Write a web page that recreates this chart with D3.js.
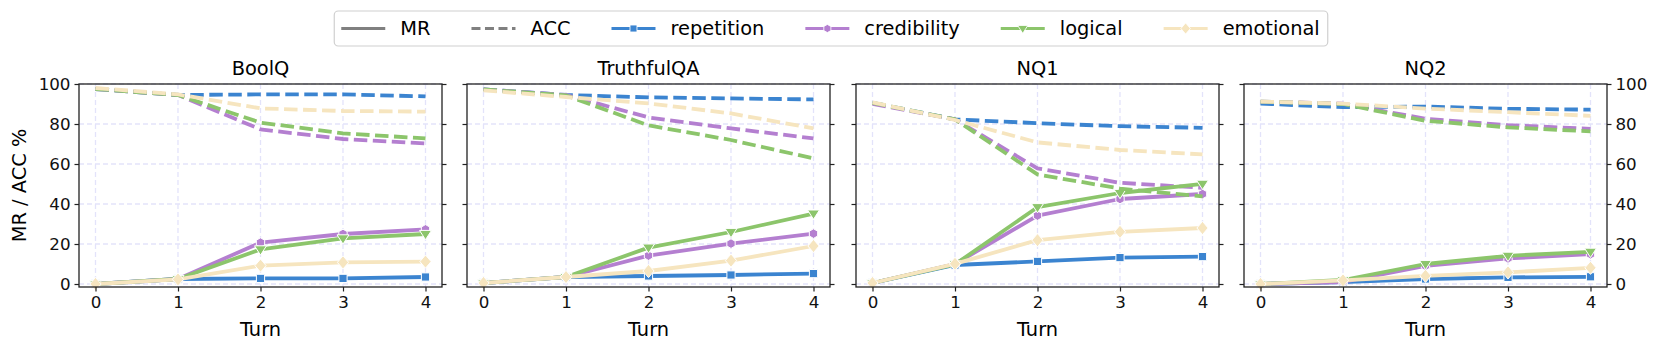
<!DOCTYPE html>
<html>
<meta charset="utf-8">
<head>
	<script src="https://d3js.org/d3.v7.min.js"></script>
	<style>
		body { margin: 0; background: #fff; }
		svg { font-family: "DejaVu Sans", sans-serif; }
		.grid line { stroke: #e3e3fa; stroke-width: 1.3px; stroke-dasharray: 5,3; }
		.frame { fill: none; stroke: #222; stroke-width: 1.3px; }
		.tick text { font-family: "DejaVu Sans", sans-serif; font-size: 16.7px; fill: #111; }
		.tick line { stroke: #222; stroke-width: 1.2px; }
	</style>
</head>
<body>
<script>
	var width = 1661,
			height = 350;

	// data
	var turns = [0, 1, 2, 3, 4];
	var datasets = ["BoolQ", "TruthfulQA", "NQ1", "NQ2"];
	var methods = ["repetition", "credibility", "logical", "emotional"];
	var colors = ["#3b84d0", "#b47fd0", "#8cc56b", "#f6e5bf"];
	var yTicks = [0, 20, 40, 60, 80, 100];

	// MR (solid) per dataset, per method
	var mrBoolQ = [
		[0, 2.5, 2.8, 2.8, 3.5],
		[0, 2.5, 20.7, 25, 27.3],
		[0, 2.5, 17.3, 22.8, 25],
		[0, 2.3, 9.2, 10.8, 11.2]
	];
	var mrTruthfulQA = [
		[0.5, 3.5, 4, 4.5, 5.2],
		[0.5, 3.5, 14.2, 20.2, 25.2],
		[0.5, 3.5, 18.2, 26, 35.2],
		[0.5, 3.5, 6.5, 11.7, 19]
	];
	var mrNQ1 = [
		[0.5, 9.5, 11.3, 13.2, 13.7],
		[0.5, 10, 34.2, 42.5, 45],
		[0.5, 9.8, 38.4, 45.5, 50.1],
		[0.5, 10.1, 21.9, 26.1, 28]
	];
	var mrNQ2 = [
		[0, 1, 2.5, 3.3, 3.6],
		[0, 1, 9.1, 12.8, 14.9],
		[0, 2, 10, 14.1, 16.1],
		[0, 1.8, 4.1, 5.8, 8.1]
	];

	// ACC (dashed) per dataset, per method
	var accBoolQ = [
		[97.5, 94.5, 94.8, 94.8, 93.8],
		[97.5, 94.5, 77.3, 72.5, 70.3],
		[97.5, 94.5, 80.7, 75.3, 72.8],
		[98, 94.8, 87.8, 86.5, 86.2]
	];
	var accTruthfulQA = [
		[97.3, 94.5, 93.3, 92.8, 92.3],
		[97.3, 94.5, 83.3, 77.8, 72.8],
		[97.3, 94.3, 79.3, 72, 62.8],
		[96.8, 93.5, 90.3, 85.3, 77.8]
	];
	var accNQ1 = [
		[90.6, 82.3, 80.4, 78.9, 78.1],
		[90, 82.3, 57.8, 50.6, 48.1],
		[90.6, 82.3, 54.8, 47.7, 43.8],
		[90.8, 82, 70.8, 67, 64.8]
	];
	var accNQ2 = [
		[90.2, 88.4, 88.7, 87.6, 87.2],
		[91.2, 90.2, 82.6, 79.4, 77.6],
		[91.2, 90, 81.6, 78.3, 76.3],
		[91.2, 90.2, 87.7, 85.9, 84.1]
	];

	var mrAll = [mrBoolQ, mrTruthfulQA, mrNQ1, mrNQ2];
	var accAll = [accBoolQ, accTruthfulQA, accNQ1, accNQ2];

	var svg = d3.select("body").append("svg")
		.attr("width", width)
		.attr("height", height);

	// panel placement
	var panelLeft = [79, 467, 856, 1244],
			panelW = 363,
			plotTop = 84,
			plotBottom = 287;

	var y = d3.scaleLinear().domain([-1.5, 100]).range([plotBottom, plotTop]);

	// marker shapes: square, hexagon, triangle down, diamond
	function markerPath(i) {
		var r, pts = [];
		if (i == 0) {
			r = 4.1;
			pts = [[-r, -r], [r, -r], [r, r], [-r, r]];
		} else if (i == 1) {
			r = 4.8;
			for (var k = 0; k < 6; k++) {
				var a = Math.PI / 6 + k * Math.PI / 3;
				pts.push([r * Math.cos(a), r * Math.sin(a)]);
			}
		} else if (i == 2) {
			r = 6;
			pts = [[-r, -r * 0.6], [r, -r * 0.6], [0, r * 0.95]];
		} else {
			r = 6.6;
			pts = [[0, -r], [r * 0.85, 0], [0, r], [-r * 0.85, 0]];
		}
		return "M" + pts.map(function(p){ return p.join(","); }).join("L") + "Z";
	}

	for (var p = 0; p < datasets.length; p++) {
		var x0 = panelLeft[p];
		var x = d3.scaleLinear().domain([-0.2, 4.2]).range([x0, x0 + panelW]);
		var g = svg.append("g");

		// grid
		var grid = g.append("g").attr("class", "grid");
		grid.selectAll(".gx").data(turns).enter().append("line")
			.attr("x1", function(d){ return x(d); }).attr("x2", function(d){ return x(d); })
			.attr("y1", plotTop).attr("y2", plotBottom);
		grid.selectAll(".gy").data(yTicks).enter().append("line")
			.attr("x1", x0).attr("x2", x0 + panelW)
			.attr("y1", function(d){ return y(d); }).attr("y2", function(d){ return y(d); });

		// lines, method by method
		for (var m = 0; m < methods.length; m++) {
			var line = d3.line()
				.x(function(d, i){ return x(turns[i]); })
				.y(function(d){ return y(d); });

			g.append("path")
				.datum(mrAll[p][m])
				.attr("d", line)
				.attr("fill", "none")
				.attr("stroke", colors[m])
				.attr("stroke-width", 3.8)
				.attr("stroke-linejoin", "round");

			g.selectAll(".mk" + m).data(mrAll[p][m]).enter().append("path")
				.attr("transform", function(d, i){ return "translate(" + x(turns[i]) + "," + y(d) + ")"; })
				.attr("d", markerPath(m))
				.attr("fill", colors[m])
				.attr("stroke", "#fff")
				.attr("stroke-width", 1);

			g.append("path")
				.datum(accAll[p][m])
				.attr("d", line)
				.attr("fill", "none")
				.attr("stroke", colors[m])
				.attr("stroke-width", 3.8)
				.attr("stroke-dasharray", "13.5,5.5");
		}

		// frame
		g.append("rect").attr("class", "frame")
			.attr("x", x0).attr("y", plotTop)
			.attr("width", panelW).attr("height", plotBottom - plotTop);

		// axes
		g.append("g")
			.attr("transform", "translate(0," + plotBottom + ")")
			.call(d3.axisBottom(x).tickValues(turns).tickSize(4.5).tickPadding(5).tickFormat(d3.format("d")))
			.call(function(a){ a.select(".domain").remove(); });

		var left = d3.axisLeft(y).tickValues(yTicks).tickSize(4.5).tickPadding(4);
		var right = d3.axisRight(y).tickValues(yTicks).tickSize(4.5).tickPadding(4);
		if (p != 0) left.tickFormat("");
		if (p != datasets.length - 1) right.tickFormat("");
		g.append("g").attr("transform", "translate(" + x0 + ",0)").call(left)
			.call(function(a){ a.select(".domain").remove(); });
		g.append("g").attr("transform", "translate(" + (x0 + panelW) + ",0)").call(right)
			.call(function(a){ a.select(".domain").remove(); });

		// title and x label
		g.append("text")
			.attr("x", x0 + panelW / 2).attr("y", 75)
			.attr("text-anchor", "middle")
			.style("font-size", "19.4px")
			.text(datasets[p]);
		g.append("text")
			.attr("x", x0 + panelW / 2).attr("y", 336)
			.attr("text-anchor", "middle")
			.style("font-size", "19.4px")
			.text("Turn");
	}

	// y label
	svg.append("text")
		.attr("transform", "translate(26," + ((plotTop + plotBottom) / 2) + ") rotate(-90)")
		.attr("text-anchor", "middle")
		.style("font-size", "19.4px")
		.text("MR / ACC %");

	// legend
	var legItems = [
		{label: "MR", color: "#808080", dash: null, m: -1},
		{label: "ACC", color: "#808080", dash: "9,4.5", m: -1}
	];
	for (var m = 0; m < methods.length; m++) {
		legItems.push({label: methods[m], color: colors[m], dash: null, m: m});
	}

	var leg = svg.append("g");
	var legBox = leg.append("rect")
		.attr("y", 11).attr("height", 35)
		.attr("rx", 4)
		.attr("fill", "#fff")
		.attr("stroke", "#d0d0d0")
		.attr("stroke-width", 1.2);

	var cx = 0, cy = 28.5;
	legItems.forEach(function(it, i) {
		var item = leg.append("g");
		item.append("line")
			.attr("x1", cx).attr("x2", cx + 44)
			.attr("y1", cy).attr("y2", cy)
			.attr("stroke", it.color)
			.attr("stroke-width", 3.2)
			.attr("stroke-dasharray", it.dash);
		if (it.m >= 0) {
			item.append("path")
				.attr("transform", "translate(" + (cx + 22) + "," + cy + ") scale(0.85)")
				.attr("d", markerPath(it.m))
				.attr("fill", it.color)
				.attr("stroke", "#fff");
		}
		var t = item.append("text")
			.attr("x", cx + 59).attr("y", cy)
			.attr("dy", "0.35em")
			.style("font-size", "19.4px")
			.text(it.label);
		cx += 59 + t.node().getComputedTextLength() + 41;
	});
	var legW = cx - 41;
	var legX = (width - legW) / 2;
	leg.selectAll("g").attr("transform", "translate(" + legX + ",0)");
	legBox.attr("x", legX - 7).attr("width", legW + 15);
</script>
</body>
</html>
